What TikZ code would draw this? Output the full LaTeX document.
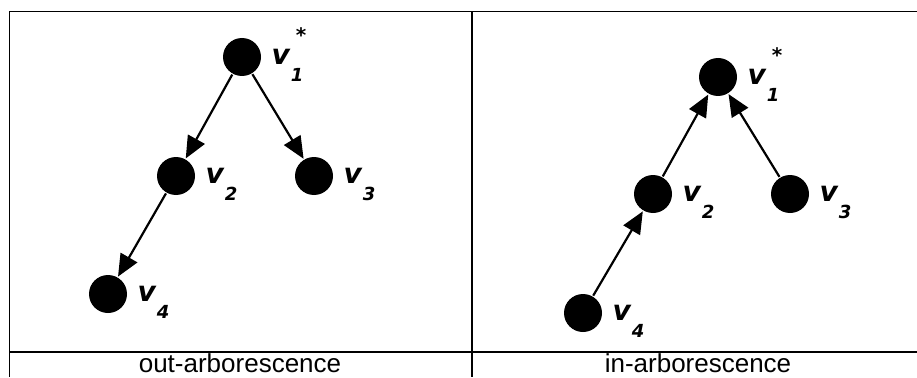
\documentclass[tikz,border=0pt]{standalone}
\usepackage{fontspec}
\setmainfont{Liberation Sans}
\newfontfamily\labfont{DejaVu Sans}
\usetikzlibrary{arrows.meta}

\newcommand{\vsub}[1]{v\kern1pt\smash{\raisebox{-16.5pt}{\fontsize{18}{18}\selectfont #1}}}
\newcommand{\vroot}{v\kern1pt\rlap{\smash{\raisebox{-16.5pt}{\fontsize{18}{18}\selectfont 1}}}\kern5pt\smash{\raisebox{22.5pt}{\fontsize{20}{20}\selectfont *}}}

\begin{document}
\begin{tikzpicture}[x=1pt,y=-1pt,->,>={Triangle[length=22pt,width=19pt]},
    line width=2.2pt,
    main node/.style={circle,fill=black,minimum size=38pt,inner sep=0pt},
    vname/.style={label={[font=\labfont\bfseries\itshape\fontsize{28}{28}\selectfont,inner sep=0pt,label distance=8.5pt]0:#1}},
    frame/.style={-,line width=1.3pt},
    caption/.style={anchor=base,inner sep=0pt,font=\fontsize{26}{26}\selectfont}]
    \useasboundingbox (0,0) rectangle (917,377);

    % table
    \draw[frame] (917,11.5) -| (9.5,377);
    \draw[frame] (472,11.5) -- (472,377);
    \draw[frame] (9.5,352) -- (917,352);

    % out-arborescence
    \node[main node,vname=\vroot] (o1) at (242,57) {};
    \node[main node,vname=\vsub{2}] (o2) at (176,176) {};
    \node[main node,vname=\vsub{3}] (o3) at (314,176) {};
    \node[main node,vname=\vsub{4}] (o4) at (108,294) {};

    \path
    (o1) edge (o2)
    (o1) edge (o3)
    (o2) edge (o4);

    % in-arborescence
    \node[main node,vname=\vroot] (i1) at (718,77) {};
    \node[main node,vname=\vsub{2}] (i2) at (653,194) {};
    \node[main node,vname=\vsub{3}] (i3) at (790,194) {};
    \node[main node,vname=\vsub{4}] (i4) at (583,313) {};

    \path
    (i2) edge (i1)
    (i3) edge (i1)
    (i4) edge (i2);

    \node[caption] (outcap) at (240,372) {out-arborescence};
    \node[caption] (incap) at (698,372) {in-arborescence};
\end{tikzpicture}
\end{document}
